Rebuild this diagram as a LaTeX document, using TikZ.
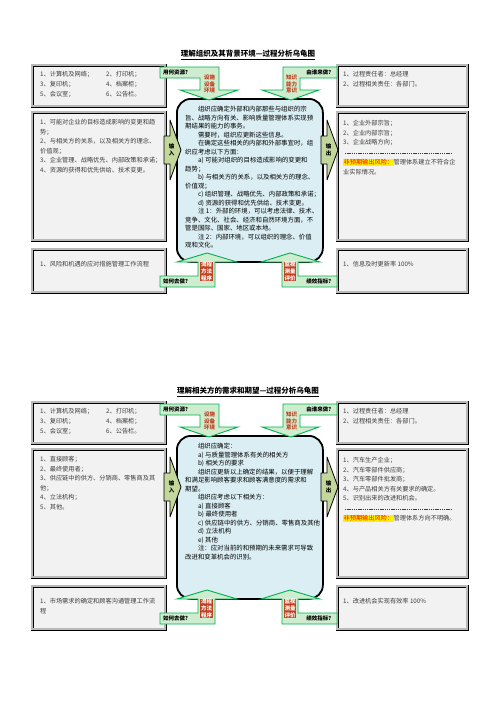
\documentclass[tikz,border=0pt]{standalone}
\usepackage{fontspec}
\setmainfont{Noto Sans CJK SC}
\usetikzlibrary{positioning}
\definecolor{bluebox}{RGB}{218,238,243}
\definecolor{arrowgreen}{RGB}{195,214,155}
\definecolor{calloutline}{RGB}{0,176,80}
\definecolor{calloutfill}{RGB}{206,236,206}
\definecolor{labelred}{RGB}{192,64,32}
\definecolor{boxgray}{RGB}{242,242,242}
\definecolor{textgray}{RGB}{60,60,60}

\begin{document}
\begin{tikzpicture}[x=1pt,y=-1pt]
        \tikzstyle{side} = [draw=black, fill=boxgray, double=gray!55, double distance=2.5pt, anchor=north west, inner sep=0pt]
        \tikzstyle{sidetext} = [anchor=north west, align=left, inner sep=0pt, text=textgray, font=\fontsize{6.2}{9.6}\selectfont]
        \tikzstyle{core} = [draw=black, line width=1.8pt, fill=bluebox, rounded corners=14pt, anchor=north west, minimum width=146pt, minimum height=163pt]
        \tikzstyle{coretext} = [anchor=north west, align=left, inner sep=0pt, font=\fontsize{6.4}{8.5}\selectfont]
        \tikzstyle{ioarrow} = [draw=black, line width=0.8pt, fill=arrowgreen, line join=round]
        \tikzstyle{iotext} = [align=center, inner sep=0pt, font=\fontsize{5.5}{6.5}\selectfont\bfseries]
        \tikzstyle{callout} = [draw=calloutline, line width=0.9pt, fill=calloutfill]
        \tikzstyle{calltext} = [anchor=west, inner sep=0pt, font=\fontsize{5.5}{6}\selectfont\bfseries]
        \tikzstyle{redstack} = [align=center, inner sep=0.6pt, text=labelred, font=\fontsize{5.5}{6.6}\selectfont\bfseries]
        \tikzstyle{redblock} = [redstack, fill=labelred, text=white]
        \tikzstyle{heading} = [inner sep=0pt, font=\fontsize{7.5}{8}\selectfont\bfseries]
        \tikzstyle{risk} = [dash pattern=on 1.4pt off 0.8pt, line width=0.5pt, textgray]

        \useasboundingbox (0,0) rectangle (496,702);

        % first turtle: context of the organisation
        \node[heading] (aTitle) at (248,54) {理解组织及其背景环境—过程分析乌龟图};
        \draw[line width=0.6pt] ([yshift=-1pt]aTitle.south west) -- ([yshift=-1pt]aTitle.south east);

        \node[side, minimum width=133pt, minimum height=41pt] (aRes) at (32,65) {};
        \node[side, minimum width=133pt, minimum height=128pt] (aIn) at (32,112) {};
        \node[side, minimum width=133pt, minimum height=43pt] (aHow) at (32,249) {};
        \node[side, minimum width=130pt, minimum height=41pt] (aWho) at (337,65) {};
        \node[side, minimum width=130pt, minimum height=128pt] (aOut) at (337,112) {};
        \node[side, minimum width=130pt, minimum height=43pt] (aKpi) at (337,249) {};

        \node[core] (aCore) at (176,98) {};

        \draw[ioarrow] (164,136) -- (170,136) -- (170,120) -- (181,150) -- (170,180) -- (170,164) -- (164,164) -- cycle;
        \node[iotext] (aInArrow) at (171.5,150) {输\\入};
        \draw[ioarrow] (321,136) -- (327,136) -- (327,120) -- (338,150) -- (327,180) -- (327,164) -- (321,164) -- cycle;
        \node[iotext] (aOutArrow) at (328.5,150) {输\\出};

        % the four green callouts
        \draw[callout] (160,67) -- (219,67) -- (219,90) -- (238,90) -- (209,100) -- (180,90) -- (200,90) -- (200,78) -- (160,78) -- cycle;
        \node[calltext] (aAskRes) at (163,72.5) {用何资源？};
        \node[redstack] (aRed1) at (209.5,84) {设施\\设备\\环境};
        \draw[callout] (337,67) -- (283,67) -- (283,90) -- (262,90) -- (291,100) -- (319,90) -- (300,90) -- (300,78) -- (337,78) -- cycle;
        \node[calltext, anchor=east] (aAskWho) at (334,72.5) {由谁来做？};
        \node[redstack] (aRed2) at (291.5,84) {知识\\能力\\意识};
        \draw[callout] (160,287) -- (215,287) -- (215,262) -- (237,262) -- (207,253) -- (177,262) -- (198,262) -- (198,276) -- (160,276) -- cycle;
        \node[calltext] (aAskHow) at (163,281.5) {如何去做？};
        \node[redblock] (aRed3) at (206.5,271.5) {流程\\方法\\程序};
        \draw[callout] (337,287) -- (282,287) -- (282,262) -- (261,262) -- (290,253) -- (320,262) -- (298,262) -- (298,276) -- (337,276) -- cycle;
        \node[calltext, anchor=east] (aAskKpi) at (334,281.5) {绩效指标？};
        \node[redblock] (aRed4) at (290,271.5) {监视\\测量\\评价};

        % texts
        \node[sidetext] (aResL) at (40,71.5) {1、计算机及网络；\\3、复印机；\\5、会议室；};
        \node[sidetext] (aResR) at (106,71.5) {2、打印机；\\4、档案柜；\\6、公告栏。};
        \node[sidetext] (aInTxt) at (40,119) {1、可能对企业的目标造成影响的变更和趋\\势；\\2、与相关方的关系，以及相关方的理念、\\价值观；\\3、企业管理、战略优先、内部政策和承诺；\\4、资源的获得和优先供给、技术变更。};
        \node[sidetext] (aHowTxt) at (40,261) {1、风险和机遇的应对措施管理工作流程};
        \node[sidetext] (aWhoTxt) at (343,71) {1、过程责任者：总经理\\2、过程相关责任：各部门。};
        \node[sidetext] (aOutTxt) at (343,120) {1、企业外部宗旨；\\2、企业内部宗旨；\\3、企业战略方向；};
        \draw[risk] (345,152.8) -- (452,152.8);
        \node[sidetext] (aOutRisk) at (343,159) {\fboxsep=0.4pt\colorbox{yellow}{\textcolor{red}{非预期输出风险：}}管理体系建立不符合企\\业实际情况。};
        \node[sidetext] (aKpiTxt) at (343,261) {1、信息及时更新率 100\%};

        \node[coretext] (aCoreTxt) at (185,106) {\hspace*{2em}组织应确定外部和内部那些与组织的宗\\
旨、战略方向有关、影响质量管理体系实现预\\
期结果的能力的事务。\\
\hspace*{2em}需要时，组织应更新这些信息。\\
\hspace*{2em}在确定这些相关的内部和外部事宜时，组\\
织应考虑以下方面：\\
\hspace*{2em}a) 可能对组织的目标造成影响的变更和\\
趋势；\\
\hspace*{2em}b) 与相关方的关系，以及相关方的理念、\\
价值观；\\
\hspace*{2em}c) 组织管理、战略优先、内部政策和承诺；\\
\hspace*{2em}d) 资源的获得和优先供给、技术变更。\\
\hspace*{2em}注 1：外部的环境，可以考虑法律、技术、\\
竞争、文化、社会、经济和自然环境方面，不\\
管是国际、国家、地区或本地。\\
\hspace*{2em}注 2：内部环境，可以组织的理念、价值\\
观和文化。};

        % second turtle: needs of interested parties
        \begin{scope}[yshift=-337pt]
        \node[heading] (bTitle) at (248,54) {理解相关方的需求和期望—过程分析乌龟图};
        \draw[line width=0.6pt] ([yshift=-1pt]bTitle.south west) -- ([yshift=-1pt]bTitle.south east);

        \node[side, minimum width=133pt, minimum height=41pt] (bRes) at (32,65) {};
        \node[side, minimum width=133pt, minimum height=128pt] (bIn) at (32,112) {};
        \node[side, minimum width=133pt, minimum height=43pt] (bHow) at (32,249) {};
        \node[side, minimum width=130pt, minimum height=41pt] (bWho) at (337,65) {};
        \node[side, minimum width=130pt, minimum height=128pt] (bOut) at (337,112) {};
        \node[side, minimum width=130pt, minimum height=43pt] (bKpi) at (337,249) {};

        \node[core] (bCore) at (176,98) {};

        \draw[ioarrow] (164,136) -- (170,136) -- (170,120) -- (181,150) -- (170,180) -- (170,164) -- (164,164) -- cycle;
        \node[iotext] (bInArrow) at (171.5,150) {输\\入};
        \draw[ioarrow] (321,136) -- (327,136) -- (327,120) -- (338,150) -- (327,180) -- (327,164) -- (321,164) -- cycle;
        \node[iotext] (bOutArrow) at (328.5,150) {输\\出};

        \draw[callout] (160,67) -- (219,67) -- (219,90) -- (238,90) -- (209,100) -- (180,90) -- (200,90) -- (200,78) -- (160,78) -- cycle;
        \node[calltext] (bAskRes) at (163,72.5) {用何资源？};
        \node[redstack] (bRed1) at (209.5,84) {设施\\设备\\环境};
        \draw[callout] (337,67) -- (283,67) -- (283,90) -- (262,90) -- (291,100) -- (319,90) -- (300,90) -- (300,78) -- (337,78) -- cycle;
        \node[calltext, anchor=east] (bAskWho) at (334,72.5) {由谁来做？};
        \node[redstack] (bRed2) at (291.5,84) {知识\\能力\\意识};
        \draw[callout] (160,287) -- (215,287) -- (215,262) -- (237,262) -- (207,253) -- (177,262) -- (198,262) -- (198,276) -- (160,276) -- cycle;
        \node[calltext] (bAskHow) at (163,281.5) {如何去做？};
        \node[redblock] (bRed3) at (206.5,271.5) {流程\\方法\\程序};
        \draw[callout] (337,287) -- (282,287) -- (282,262) -- (261,262) -- (290,253) -- (320,262) -- (298,262) -- (298,276) -- (337,276) -- cycle;
        \node[calltext, anchor=east] (bAskKpi) at (334,281.5) {绩效指标？};
        \node[redblock] (bRed4) at (290,271.5) {监视\\测量\\评价};

        \node[sidetext] (bResL) at (40,71.5) {1、计算机及网络；\\3、复印机；\\5、会议室；};
        \node[sidetext] (bResR) at (106,71.5) {2、打印机；\\4、档案柜；\\6、公告栏。};
        \node[sidetext] (bInTxt) at (40,119) {1、直接顾客；\\2、最终使用者；\\3、供应链中的供方、分销商、零售商及其\\他；\\4、立法机构；\\5、其他。};
        \node[sidetext] (bHowTxt) at (40,261) {1、市场需求的确定和顾客沟通管理工作流\\程};
        \node[sidetext] (bWhoTxt) at (343,71) {1、过程责任者：总经理\\2、过程相关责任：各部门。};
        \node[sidetext] (bOutTxt) at (343,120) {1、汽车生产企业；\\2、汽车零部件供应商；\\3、汽车零部件批发商；\\4、与产品相关方有关要求的确定。\\5、识别出来的改进和机会。};
        \draw[risk] (345,172) -- (452,172);
        \node[sidetext] (bOutRisk) at (343,178) {\fboxsep=0.4pt\colorbox{yellow}{\textcolor{red}{非预期输出风险：}}管理体系方向不明确。};
        \node[sidetext] (bKpiTxt) at (343,261) {1、改进机会实现有效率 100\%};

        \node[coretext] (bCoreTxt) at (185,106) {\hspace*{2em}组织应确定：\\
\hspace*{2em}a) 与质量管理体系有关的相关方\\
\hspace*{2em}b) 相关方的要求\\
\hspace*{2em}组织应更新以上确定的结果，以便于理解\\
和满足影响顾客要求和顾客满意度的需求和\\
期望。\\
\hspace*{2em}组织应考虑以下相关方：\\
\hspace*{2em}a) 直接顾客\\
\hspace*{2em}b) 最终使用者\\
\hspace*{2em}c) 供应链中的供方、分销商、零售商及其他\\
\hspace*{2em}d) 立法机构\\
\hspace*{2em}e) 其他\\
\hspace*{2em}注：应对当前的和预期的未来需求可导致\\
改进和变革机会的识别。};
        \end{scope}
\end{tikzpicture}
\end{document}
